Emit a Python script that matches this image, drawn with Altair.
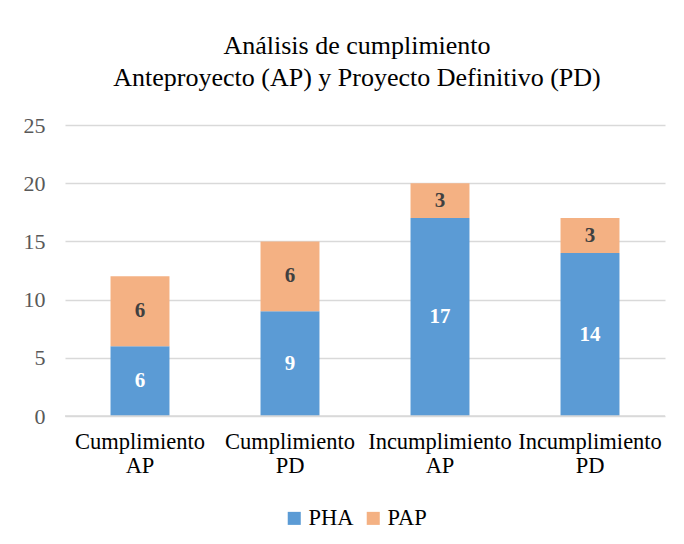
import altair as alt
import pandas as pd

categories = ["Cumplimiento AP", "Cumplimiento PD", "Incumplimiento AP", "Incumplimiento PD"]
series = ["PHA", "PAP"]
pha = [6, 9, 17, 14]
pap = [6, 6, 3, 3]
colors = ["#5B9BD5", "#F4B183"]
label_colors = ["#FFFFFF", "#404040"]

rows = []
for i, c in enumerate(categories):
    rows.append({"cat": c, "serie": "PHA", "value": pha[i], "ord": 0})
    rows.append({"cat": c, "serie": "PAP", "value": pap[i], "ord": 1})
df = pd.DataFrame(rows)

FONT = "Liberation Serif"

x = alt.X("cat:N", sort=categories, title=None,
          scale=alt.Scale(paddingInner=0.607, paddingOuter=0.3035),
          axis=alt.Axis(labelAngle=0, labelExpr="split(datum.label, ' ')",
                        labelFontSize=22.5, labelLineHeight=24, labelColor="#000000",
                        labelPadding=14, ticks=False, domain=False, labelFont=FONT))

base = alt.Chart(df).transform_stack(
    stack="value", groupby=["cat"], as_=["y0", "y1"], sort=[alt.SortField("ord")]
).transform_calculate(mid="(datum.y0 + datum.y1) / 2")

yscale = alt.Scale(domain=[0, 25], nice=False, zero=True)

bars = base.mark_bar().encode(
    x=x,
    y=alt.Y("y0:Q", title=None, stack=None,
            scale=yscale,
            axis=alt.Axis(values=[0, 5, 10, 15, 20, 25], labelFontSize=22, labelFont=FONT,
                          labelColor="#595959", ticks=False, domain=False,
                          gridColor="#D9D9D9", gridWidth=1.3, labelPadding=20)),
    y2="y1:Q",
    color=alt.Color("serie:N", sort=series,
                    scale=alt.Scale(domain=series, range=colors),
                    legend=alt.Legend(title=None, orient="none", direction="horizontal",
                                      legendX=218, legendY=382, symbolType="square",
                                      symbolSize=170, symbolStrokeWidth=0,
                                      labelFontSize=22.5, labelFont=FONT, labelColor="#000000",
                                      columnPadding=8, labelOffset=3)),
)

texts = base.mark_text(font=FONT, fontSize=21, fontWeight="bold").encode(
    x=x,
    y=alt.Y("mid:Q", stack=None, scale=yscale),
    text=alt.Text("value:Q"),
    color=alt.Color("serie:N", scale=alt.Scale(domain=series, range=label_colors), legend=None),
)

baseline = alt.Chart(pd.DataFrame({"v": [0]})).mark_rule(color="#D9D9D9", strokeWidth=1.5).encode(
    y=alt.Y("v:Q", scale=yscale)
)

chart = alt.layer(bars, texts, baseline).resolve_scale(color="independent").properties(
    width=600, height=291,
    background="#FFFFFF",
    autosize=alt.AutoSizeParams(type="none"),
    padding={"left": 57, "top": 117, "right": 10, "bottom": 115},
    title=alt.TitleParams(
        text=["Análisis de cumplimiento", "Anteproyecto (AP) y Proyecto Definitivo (PD)"],
        font=FONT, fontSize=26, fontWeight="normal", color="#000000",
        lineHeight=32, anchor="middle", offset=23, dx=-8,
    ),
).configure_view(stroke=None)

chart.save("out.html", embed_options={"renderer": "svg", "actions": False})
